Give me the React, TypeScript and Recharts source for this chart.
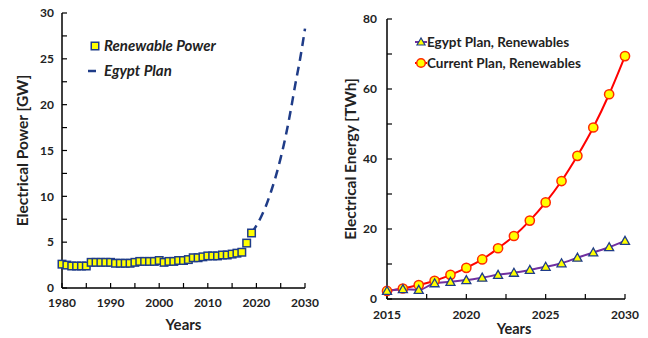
import React from "react";
import { LineChart, Line, XAxis, YAxis, Legend, Label } from "recharts";

// left chart: installed renewable power (GW)
const powerYears = [
  1980, 1981, 1982, 1983, 1984, 1985, 1986, 1987, 1988, 1989,
  1990, 1991, 1992, 1993, 1994, 1995, 1996, 1997, 1998, 1999,
  2000, 2001, 2002, 2003, 2004, 2005, 2006, 2007, 2008, 2009,
  2010, 2011, 2012, 2013, 2014, 2015, 2016, 2017, 2018, 2019,
];
const renewablePower = [
  2.6, 2.5, 2.4, 2.4, 2.4, 2.4, 2.8, 2.8, 2.8, 2.8,
  2.8, 2.7, 2.7, 2.7, 2.7, 2.8, 2.9, 2.9, 2.9, 2.9,
  3.0, 2.8, 2.9, 2.9, 3.0, 3.0, 3.1, 3.3, 3.3, 3.4,
  3.5, 3.5, 3.5, 3.6, 3.6, 3.7, 3.8, 3.9, 4.9, 6.0,
];
const planYears = [2019, 2020, 2021, 2022, 2023, 2024, 2025, 2026, 2027, 2028, 2029, 2030];
const egyptPlanPower = [6.0, 6.8, 7.8, 9.0, 10.5, 12.2, 14.2, 16.5, 19.2, 22.2, 25.0, 28.3];

const powerTicksX = [1980, 1985, 1990, 1995, 2000, 2005, 2010, 2015, 2020, 2025, 2030];
const powerTicksY = [0, 2.5, 5, 7.5, 10, 12.5, 15, 17.5, 20, 22.5, 25, 27.5, 30];

// right chart: renewable energy (TWh)
const energyYears = [
  2015, 2016, 2017, 2018, 2019, 2020, 2021, 2022,
  2023, 2024, 2025, 2026, 2027, 2028, 2029, 2030,
];
const egyptPlanEnergy = [2.3, 2.8, 2.6, 4.5, 4.9, 5.4, 6.1, 6.9, 7.5, 8.3, 9.2, 10.2, 11.8, 13.3, 14.8, 16.6];
const currentPlanEnergy = [2.3, 3.0, 4.0, 5.2, 6.9, 8.9, 11.3, 14.5, 18.0, 22.4, 27.6, 33.7, 40.9, 49.0, 58.5, 69.4];

const energyTicksX = [2015, 2017.5, 2020, 2022.5, 2025, 2027.5, 2030];
const energyTicksY = [0, 10, 20, 30, 40, 50, 60, 70, 80];

const font = "Lato, 'Liberation Sans', sans-serif";
const navy = "#1F3C88";
const tickStyle = { fontFamily: font, fontSize: 12, fontWeight: 700, fill: "#222" };
const axisLine = { stroke: "#000", strokeWidth: 1.5 };
const tickLine = { stroke: "#000", strokeWidth: 1.2 };
const titleStyle = { fontFamily: font, fontSize: 15.5, fontWeight: 700, fill: "#222", textAnchor: "middle" as const };

const powerData = powerYears.map((year, i) => ({ year, value: renewablePower[i] }));
const planData = planYears.map((year, i) => ({ year, value: egyptPlanPower[i] }));
const energyData = energyYears.map((year, i) => ({
  year,
  egypt: egyptPlanEnergy[i],
  current: currentPlanEnergy[i],
}));

const SquareDot = (props: any) => {
  const { cx, cy, index } = props;
  if (cx == null || cy == null) return null;
  return (
    <rect key={`sq-${index}`} x={cx - 3.75} y={cy - 3.75} width={7.5} height={7.5}
      fill="#FFFF00" stroke={navy} strokeWidth={1.5} />
  );
};

const TriangleDot = (props: any) => {
  const { cx, cy, index } = props;
  if (cx == null || cy == null) return null;
  return (
    <polygon key={`tr-${index}`}
      points={`${cx},${cy - 4.5} ${cx - 4.5},${cy + 3.5} ${cx + 4.5},${cy + 3.5}`}
      fill="#FFFF00" stroke={navy} strokeWidth={1.3} />
  );
};

const CircleDot = (props: any) => {
  const { cx, cy, index } = props;
  if (cx == null || cy == null) return null;
  return <circle key={`ci-${index}`} cx={cx} cy={cy} r={4.6} fill="#FFFF00" stroke="#FF2A00" strokeWidth={1.5} />;
};

const PowerLegend = () => (
  <svg width={170} height={50} style={{ display: "block" }}>
    <rect x={11.25} y={7.25} width={7.5} height={7.5} fill="#FFFF00" stroke={navy} strokeWidth={1.5} />
    <text x={24} y={16} fontFamily={font} fontSize={15} fontWeight={700} fontStyle="italic" fill="#222">
      Renewable Power
    </text>
    <line x1={8} y1={36} x2={16} y2={36} stroke={navy} strokeWidth={2.5} />
    <text x={24} y={41} fontFamily={font} fontSize={15} fontWeight={700} fontStyle="italic" fill="#222">
      Egypt Plan
    </text>
  </svg>
);

const EnergyLegend = () => (
  <svg width={180} height={40} style={{ display: "block" }}>
    <line x1={0} y1={9} x2={12} y2={9} stroke="#7030A0" strokeWidth={2} />
    <polygon points="6,5 2,12 10,12" fill="#FFFF00" stroke={navy} strokeWidth={1.2} />
    <text x={12} y={14} fontFamily={font} fontSize={13.5} fontWeight={700} fill="#222">
      Egypt Plan, Renewables
    </text>
    <line x1={0} y1={30} x2={12} y2={30} stroke="#FF0000" strokeWidth={2} />
    <circle cx={6} cy={30} r={4.3} fill="#FFFF00" stroke="#FF2A00" strokeWidth={1.5} />
    <text x={12} y={35} fontFamily={font} fontSize={13.5} fontWeight={700} fill="#222">
      Current Plan, Renewables
    </text>
  </svg>
);

function PowerChart() {
  return (
    <LineChart width={330} height={338} margin={{ top: 13, right: 25, bottom: 0, left: 0 }}>
      <XAxis dataKey="year" type="number" domain={[1980, 2030]} ticks={powerTicksX}
        tickFormatter={(v: number) => (v % 10 === 0 ? String(v) : "")}
        tick={tickStyle} axisLine={axisLine} tickLine={tickLine} tickSize={-5} tickMargin={15}
        height={50} allowDuplicatedCategory={false}>
        <Label value="Years" position="insideBottom" offset={8}
          style={{ fontFamily: font, fontSize: 15, fontWeight: 700, fill: "#222" }} />
      </XAxis>
      <XAxis xAxisId="top" orientation="top" type="number" domain={[1980, 2030]} height={0}
        tick={false} tickLine={false} axisLine={axisLine} />
      <YAxis type="number" domain={[0, 30]} ticks={powerTicksY}
        tickFormatter={(v: number) => (v % 5 === 0 ? String(v) : "")}
        tick={tickStyle} axisLine={axisLine} tickLine={tickLine} tickSize={-5} tickMargin={13} width={62}>
        <Label value="Electrical Power [GW]" angle={-90} position="center" dx={-9} style={titleStyle} />
      </YAxis>
      <YAxis yAxisId="right" orientation="right" type="number" domain={[0, 30]} width={0}
        tick={false} tickLine={false} axisLine={axisLine} />
      <Legend content={<PowerLegend />} layout="horizontal" verticalAlign="middle" align="center"
        wrapperStyle={{ position: "absolute", left: 80, top: 35, width: 170 }} />
      <Line data={planData} dataKey="value" name="Egypt Plan" type="monotone" stroke={navy}
        strokeWidth={2.5} strokeDasharray="9 6" dot={false} isAnimationActive={false} />
      <Line data={powerData} dataKey="value" name="Renewable Power" stroke="none"
        dot={<SquareDot />} activeDot={false} isAnimationActive={false} />
    </LineChart>
  );
}

function EnergyChart() {
  return (
    <LineChart width={318} height={338} data={energyData} margin={{ top: 19, right: 23, bottom: 0, left: 0 }}>
      <XAxis dataKey="year" type="number" domain={[2015, 2030]} ticks={energyTicksX}
        tickFormatter={(v: number) => (Number.isInteger(v) ? String(v) : "")}
        tick={tickStyle} axisLine={axisLine} tickLine={tickLine} tickSize={-5} tickMargin={16} height={39}>
        <Label value="Years" position="insideBottom" offset={4} dx={8}
          style={{ fontFamily: font, fontSize: 14.5, fontWeight: 700, fill: "#222" }} />
      </XAxis>
      <XAxis xAxisId="top" orientation="top" type="number" domain={[2015, 2030]} height={0}
        tick={false} tickLine={false} axisLine={axisLine} />
      <YAxis type="number" domain={[0, 80]} ticks={energyTicksY}
        tickFormatter={(v: number) => (v % 20 === 0 ? String(v) : "")}
        tick={tickStyle} axisLine={axisLine} tickLine={tickLine} tickSize={-5} tickMargin={15} width={57}>
        <Label value="Electrical Energy [TWh]" angle={-90} position="center" dx={-8} style={titleStyle} />
      </YAxis>
      <YAxis yAxisId="right" orientation="right" type="number" domain={[0, 80]} width={0}
        tick={false} tickLine={false} axisLine={axisLine} />
      <Legend content={<EnergyLegend />} layout="horizontal" verticalAlign="middle" align="center"
        wrapperStyle={{ position: "absolute", left: 85, top: 33, width: 180 }} />
      <Line dataKey="current" name="Current Plan, Renewables" type="monotone" stroke="#FF0000"
        strokeWidth={2} dot={<CircleDot />} activeDot={false} isAnimationActive={false} />
      <Line dataKey="egypt" name="Egypt Plan, Renewables" type="monotone" stroke="#7030A0"
        strokeWidth={2} dot={<TriangleDot />} activeDot={false} isAnimationActive={false} />
    </LineChart>
  );
}

export default function App() {
  return (
    <div style={{ position: "absolute", left: 0, top: 0, width: 648, height: 338, background: "#fff" }}>
      <div style={{ position: "absolute", left: 0, top: 0 }}>
        <PowerChart />
      </div>
      <div style={{ position: "absolute", left: 330, top: 0 }}>
        <EnergyChart />
      </div>
    </div>
  );
}
